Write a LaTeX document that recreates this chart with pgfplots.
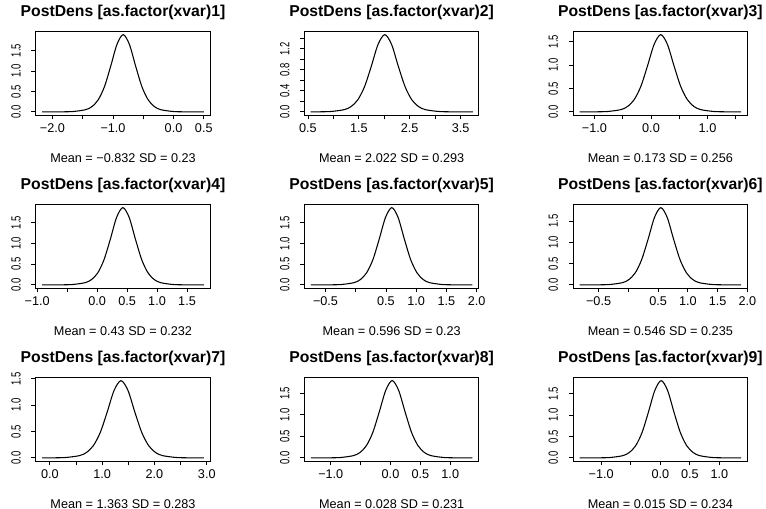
\documentclass[border=0pt]{standalone}
\usepackage{fontspec}
\setmainfont{Liberation Sans}
\usepackage{graphicx}
\usepackage{pgfplots}
\pgfplotsset{compat=1.18}
\newcommand{\yl}[1]{\scalebox{0.75}[1.05]{#1}}
\pgfplotsset{
 rp/.style={
  scale only axis, width=130.9pt, height=62.6pt,
  axis line style={black, line width=0.7pt},
  tick align=outside, tick pos=left,
  major tick length=3.2pt,
  every tick/.style={black, line width=0.7pt},
  tick label style={font=\fontsize{9.5}{11}\selectfont},
  yticklabel style={rotate=90, anchor=south},
  yticklabel shift=4.5pt,
  title style={font=\bfseries\fontsize{11.8}{13}\selectfont, at={(0.5,1)}, anchor=center, yshift=8.4pt},
  xlabel style={font=\fontsize{9.5}{11}\selectfont, at={(axis description cs:0.5,0)}, anchor=center, yshift=-32pt},
  anchor=south west,
 },
 dens/.style={black, line width=0.8pt, smooth, no markers},
}
\begin{document}
\begin{tikzpicture}
\useasboundingbox (0,0) rectangle (574.5pt,381.75pt);
% ---------- row 1 ----------
\begin{axis}[rp, at={(26.8pt,295.5pt)},
  xmin=-2.277, xmax=0.607, ymin=-0.0756, ymax=1.966,
  xtick={-2,-1.5,-1,-0.5,0,0.5}, xticklabels={{−2.0},{},{−1.0},{},{0.0},{0.5}},
  ytick={0,0.5,1,1.5}, yticklabels={\yl{0.0},\yl{0.5},\yl{1.0},\yl{1.5}},
  title={PostDens [as.factor(xvar)1]}, xlabel={Mean = −0.832 SD = 0.23}]
\addplot[dens] coordinates {(-2.17,0.0001) (-1.862,0.0019) (-1.656,0.0099) (-1.450,0.0554) (-1.347,0.131) (-1.244,0.297) (-1.141,0.619) (-1.038,1.119) (-0.935,1.650) (-0.832,1.890) (-0.729,1.650) (-0.626,1.119) (-0.523,0.619) (-0.420,0.297) (-0.317,0.131) (-0.214,0.0554) (-0.008,0.0099) (0.198,0.0019) (0.50,0.0001)};
\end{axis}
\begin{axis}[rp, at={(228.3pt,295.5pt)},
  xmin=0.43, xmax=3.86, ymin=-0.0587, ymax=1.526,
  xtick={0.5,1,1.5,2,2.5,3,3.5}, xticklabels={{0.5},{},{1.5},{},{2.5},{},{3.5}},
  ytick={0,0.2,0.4,0.6,0.8,1.0,1.2,1.4}, yticklabels={{\yl{0.0}},{},{\yl{0.4}},{},{\yl{0.8}},{},{\yl{1.2}},{}},
  title={PostDens [as.factor(xvar)2]}, xlabel={Mean = 2.022 SD = 0.293}]
\addplot[dens] coordinates {(0.553,0.0001) (0.684,0.0015) (0.949,0.0077) (1.214,0.0430) (1.347,0.1015) (1.480,0.231) (1.612,0.480) (1.745,0.868) (1.877,1.281) (2.010,1.467) (2.143,1.281) (2.275,0.868) (2.408,0.480) (2.540,0.231) (2.673,0.1015) (2.806,0.0430) (3.071,0.0077) (3.336,0.0015) (3.74,0.0001)};
\end{axis}
\begin{axis}[rp, at={(429.8pt,295.5pt)},
  xmin=-1.379, xmax=1.71, ymin=-0.066, ymax=1.716,
  xtick={-1,-0.5,0,0.5,1,1.5}, xticklabels={{−1.0},{},{0.0},{},{1.0},{}},
  ytick={0,0.5,1,1.5}, yticklabels={\yl{0.0},\yl{0.5},\yl{1.0},\yl{1.5}},
  title={PostDens [as.factor(xvar)3]}, xlabel={Mean = 0.173 SD = 0.256}]
\addplot[dens] coordinates {(-1.265,0.0001) (-1.006,0.0017) (-0.770,0.0086) (-0.534,0.0483) (-0.417,0.114) (-0.299,0.259) (-0.181,0.540) (-0.063,0.977) (0.055,1.440) (0.173,1.650) (0.291,1.440) (0.409,0.977) (0.527,0.540) (0.645,0.259) (0.763,0.114) (0.880,0.0483) (1.116,0.0086) (1.352,0.0017) (1.596,0.0001)};
\end{axis}
% ---------- row 2 ----------
\begin{axis}[rp, at={(26.8pt,165.75pt)},
  xmin=-1.024, xmax=1.888, ymin=-0.0744, ymax=1.934,
  xtick={-1,-0.5,0,0.5,1,1.5}, xticklabels={{−1.0},{},{0.0},{0.5},{1.0},{1.5}},
  ytick={0,0.5,1,1.5}, yticklabels={\yl{0.0},\yl{0.5},\yl{1.0},\yl{1.5}},
  title={PostDens [as.factor(xvar)4]}, xlabel={Mean = 0.43 SD = 0.232}]
\addplot[dens] coordinates {(-0.916,0.0001) (-0.616,0.0019) (-0.407,0.0097) (-0.198,0.0545) (-0.093,0.129) (0.012,0.292) (0.116,0.609) (0.221,1.101) (0.325,1.624) (0.430,1.860) (0.535,1.624) (0.639,1.101) (0.744,0.609) (0.848,0.292) (0.953,0.129) (1.058,0.0545) (1.267,0.0097) (1.476,0.0019) (1.78,0.0001)};
\end{axis}
\begin{axis}[rp, at={(228.3pt,165.75pt)},
  xmin=-0.849, xmax=2.037, ymin=-0.0748, ymax=1.945,
  xtick={-0.5,0,0.5,1,1.5,2}, xticklabels={{−0.5},{},{0.5},{1.0},{1.5},{2.0}},
  ytick={0,0.5,1,1.5}, yticklabels={\yl{0.0},\yl{0.5},\yl{1.0},\yl{1.5}},
  title={PostDens [as.factor(xvar)5]}, xlabel={Mean = 0.596 SD = 0.23}]
\addplot[dens] coordinates {(-0.742,0.0001) (-0.445,0.0019) (-0.236,0.0098) (-0.028,0.0548) (0.076,0.129) (0.180,0.294) (0.284,0.612) (0.388,1.107) (0.492,1.633) (0.596,1.870) (0.700,1.633) (0.804,1.107) (0.908,0.612) (1.012,0.294) (1.116,0.129) (1.220,0.0548) (1.428,0.0098) (1.637,0.0019) (1.93,0.0001)};
\end{axis}
\begin{axis}[rp, at={(429.8pt,165.75pt)},
  xmin=-0.928, xmax=2.003, ymin=-0.0726, ymax=1.888,
  xtick={-0.5,0,0.5,1,1.5,2}, xticklabels={{−0.5},{},{0.5},{1.0},{1.5},{2.0}},
  ytick={0,0.5,1,1.5}, yticklabels={\yl{0.0},\yl{0.5},\yl{1.0},\yl{1.5}},
  title={PostDens [as.factor(xvar)6]}, xlabel={Mean = 0.546 SD = 0.235}]
\addplot[dens] coordinates {(-0.819,0.0001) (-0.526,0.0019) (-0.312,0.0095) (-0.097,0.0532) (0.010,0.126) (0.117,0.285) (0.224,0.594) (0.332,1.074) (0.439,1.584) (0.546,1.815) (0.653,1.584) (0.760,1.074) (0.868,0.594) (0.975,0.285) (1.082,0.126) (1.189,0.0532) (1.404,0.0095) (1.618,0.0019) (1.894,0.0001)};
\end{axis}
% ---------- row 3 ----------
\begin{axis}[rp, at={(26.8pt,36pt)},
  xmin=-0.271, xmax=3.067, ymin=-0.0587, ymax=1.526,
  xtick={0,0.5,1,1.5,2,2.5,3}, xticklabels={{0.0},{},{1.0},{},{2.0},{},{3.0}},
  ytick={0,0.5,1,1.5}, yticklabels={\yl{0.0},\yl{0.5},\yl{1.0},\yl{1.5}},
  title={PostDens [as.factor(xvar)7]}, xlabel={Mean = 1.363 SD = 0.283}]
\addplot[dens] coordinates {(-0.147,0.0001) (0.034,0.0015) (0.299,0.0077) (0.564,0.0430) (0.697,0.1015) (0.830,0.231) (0.962,0.480) (1.095,0.868) (1.227,1.281) (1.360,1.467) (1.493,1.281) (1.625,0.868) (1.758,0.480) (1.890,0.231) (2.023,0.1015) (2.156,0.0430) (2.421,0.0077) (2.686,0.0015) (2.943,0.0001)};
\end{axis}
\begin{axis}[rp, at={(228.3pt,36pt)},
  xmin=-1.441, xmax=1.48, ymin=-0.0718, ymax=1.867,
  xtick={-1,-0.5,0,0.5,1}, xticklabels={{−1.0},{},{0.0},{0.5},{1.0}},
  ytick={0,0.5,1,1.5}, yticklabels={\yl{0.0},\yl{0.5},\yl{1.0},\yl{1.5}},
  title={PostDens [as.factor(xvar)8]}, xlabel={Mean = 0.028 SD = 0.231}]
\addplot[dens] coordinates {(-1.333,0.0001) (-1.055,0.0018) (-0.838,0.0094) (-0.622,0.0527) (-0.513,0.124) (-0.405,0.282) (-0.297,0.589) (-0.189,1.064) (-0.080,1.569) (0.028,1.797) (0.136,1.569) (0.245,1.064) (0.353,0.589) (0.461,0.282) (0.569,0.124) (0.678,0.0527) (0.894,0.0094) (1.111,0.0018) (1.372,0.0001)};
\end{axis}
\begin{axis}[rp, at={(429.8pt,36pt)},
  xmin=-1.475, xmax=1.476, ymin=-0.072, ymax=1.872,
  xtick={-1,-0.5,0,0.5,1}, xticklabels={{−1.0},{},{0.0},{0.5},{1.0}},
  ytick={0,0.5,1,1.5}, yticklabels={\yl{0.0},\yl{0.5},\yl{1.0},\yl{1.5}},
  title={PostDens [as.factor(xvar)9]}, xlabel={Mean = 0.015 SD = 0.234}]
\addplot[dens] coordinates {(-1.366,0.0001) (-1.066,0.0018) (-0.850,0.0094) (-0.634,0.0527) (-0.526,0.125) (-0.417,0.283) (-0.309,0.590) (-0.201,1.066) (-0.093,1.571) (0.015,1.800) (0.123,1.571) (0.231,1.066) (0.339,0.590) (0.447,0.283) (0.556,0.125) (0.664,0.0527) (0.880,0.0094) (1.096,0.0018) (1.367,0.0001)};
\end{axis}
\end{tikzpicture}
\end{document}
